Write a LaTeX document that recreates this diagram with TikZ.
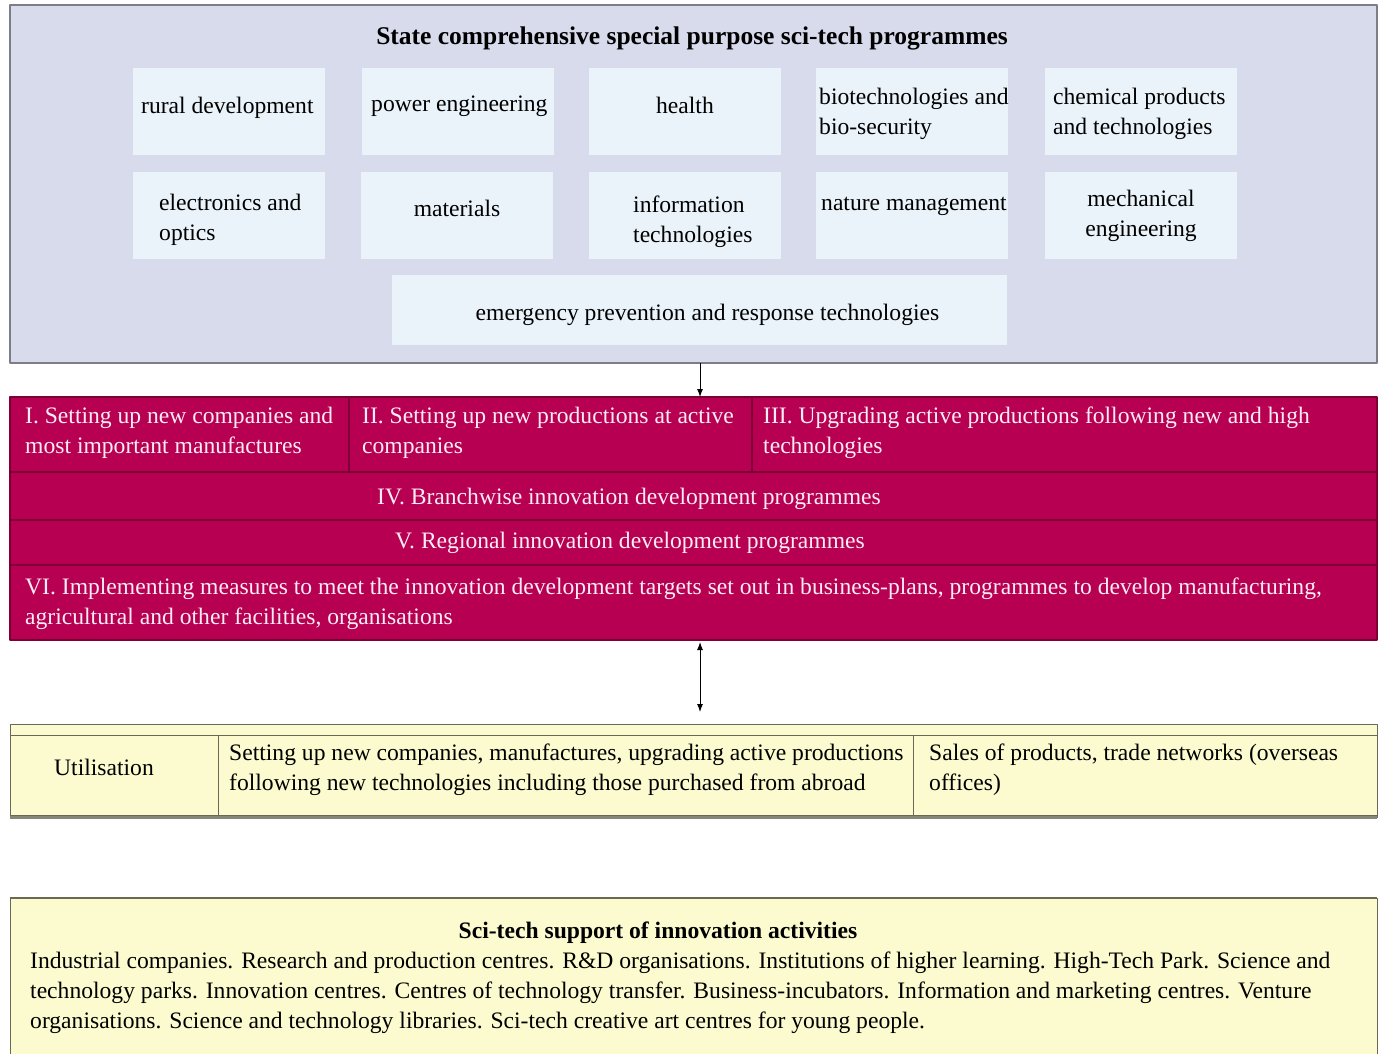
\documentclass[tikz,border=0pt]{standalone}
\usepackage{fontspec}
\setmainfont{Liberation Serif}
\usetikzlibrary{positioning,arrows.meta}
\begin{document}
\begin{tikzpicture}[x=1pt,y=-1pt,line join=round,
		font=\fontsize{23.6}{30}\selectfont,
		box/.style={anchor=north west,inner sep=0pt,outer sep=0pt},
		cell/.style={box,minimum width=#1},
		txt/.style={inner sep=0pt,align=left},
		link/.style={line width=1pt,-{Latex[length=8pt,width=6pt]}}]
	\definecolor{lavender}{RGB}{216,219,236}
	\definecolor{frame}{RGB}{125,125,135}
	\definecolor{progbox}{RGB}{234,243,250}
	\definecolor{crimson}{RGB}{183,0,82}
	\definecolor{crimsondark}{RGB}{125,0,52}
	\definecolor{pinkwhite}{RGB}{252,236,243}
	\definecolor{paleyellow}{RGB}{252,251,207}
	\definecolor{olive}{RGB}{105,105,85}
	\useasboundingbox (0,0) rectangle (1383,1053);
	
	% programmes
	\node[cell=1367pt,minimum height=358pt,fill=lavender,draw=frame,line width=1.5pt] (sci) at (10,5) {};
	\node[font=\fontsize{25.5}{30}\selectfont\bfseries] (ttl) at (692,38) {State comprehensive special purpose sci-tech programmes};
	\foreach \nm/\xx/\yy/\p/\dy/\an/\al/\txt in {
		r1/133/68/8/4/west/left/{rural development},
		r2/362/68/9/5/west/left/{power engineering},
		r3/589/68/0/6/center/center/{health},
		r4/816/68/3/-2/west/left/{biotechnologies and\\bio-security},
		r5/1045/68/8/-2/west/left/{chemical products\\and technologies},
		s1/133/172/26/-4/west/left/{electronics and\\optics},
		s2/361/172/0/7/center/center/{materials},
		s3/589/172/44/-6/west/left/{information\\technologies},
		s4/816/172/5/9/west/left/{nature management},
		s5/1045/172/0/0/center/center/{mechanical\\engineering}}{
		\node[cell=192pt,minimum height=87pt,fill=progbox] (\nm) at (\xx,\yy) {};
		\node[txt,anchor=\an,align=\al] at ([xshift=\p pt,yshift=\dy pt]\nm.\an) {\txt};
	}
	\node[cell=615pt,minimum height=70pt,fill=progbox] (e1) at (392,275) {};
	\node[txt] at ([xshift=8pt,yshift=-5pt]e1.center) {emergency prevention and response technologies};
	
	% directions
	\foreach \nm/\xx/\yy/\w/\h/\p/\dy/\txt in {
		d1/10/397/339/75/15/2/{I. Setting up new companies and\\most important manufactures},
		d2/349/397/403/75/13/2/{II. Setting up new productions at active\\companies},
		d3/752/397/625/75/11/2/{III. Upgrading active productions following new and high\\technologies},
		d4/10/472/1367/48/367/-3/{IV. Branchwise innovation development programmes},
		d5/10/520/1367/45/385/0/{V. Regional innovation development programmes},
		d6/10/565/1367/75/15/-1/{VI. Implementing measures to meet the innovation development targets set out in business-plans, programmes to develop manufacturing,\\agricultural and other facilities, organisations}}{
		\node[cell=\w pt,minimum height=\h pt,fill=crimson,draw=crimsondark,line width=1.5pt] (\nm) at (\xx,\yy) {};
		\node[txt,anchor=west,text=pinkwhite] at ([xshift=\p pt,yshift=\dy pt]\nm.west) {\txt};
	}
	
	% utilisation
	\node[cell=1367pt,minimum height=93pt,fill=paleyellow,draw=olive,line width=1pt] (use) at (10,724) {};
	\foreach \nm/\xx/\w/\p/\dy/\an/\txt in {
		u1/10/208/-10/8/center/{Utilisation},
		u2/218/695/11/5/west/{Setting up new companies, manufactures, upgrading active productions\\following new technologies including those purchased from abroad},
		u3/913/464/16/5/west/{Sales of products, trade networks (overseas\\offices)}}{
		\node[cell=\w pt,minimum height=80pt,draw=olive,line width=1pt] (\nm) at (\xx,735) {};
		\node[txt,anchor=\an] at ([xshift=\p pt,yshift=\dy pt]\nm.\an) {\txt};
	}
	\draw[olive!80,line width=3pt] (use.south west) -- (use.south east);
	
	% support
	\node[cell=1367pt,minimum height=160pt,fill=paleyellow,draw=olive,line width=1pt] (sup) at (10,898) {};
	\draw[olive,line width=2.5pt] (sup.north west) -- (sup.north east);
	\node[txt,font=\fontsize{23.6}{30}\selectfont\bfseries] (supttl) at (658,933) {Sci-tech support of innovation activities};
	\node[txt,anchor=north west] (supbody) at (30,952) {Industrial companies. Research and production centres. R\&D organisations. Institutions of higher learning. High-Tech Park. Science and\\
		technology parks. Innovation centres. Centres of technology transfer. Business-incubators. Information and marketing centres. Venture\\
		organisations. Science and technology libraries. Sci-tech creative art centres for young people.};
	
	% arrows
	\path (700,0) coordinate (ax);
	\draw[link] (sci.south -| ax) -- (d2.north -| ax);
	\draw[link,{Latex[length=8pt,width=6pt]}-{Latex[length=8pt,width=6pt]},shorten <=2pt,shorten >=12pt] (d6.south -| ax) -- (use.north -| ax);
\end{tikzpicture}
\end{document}
